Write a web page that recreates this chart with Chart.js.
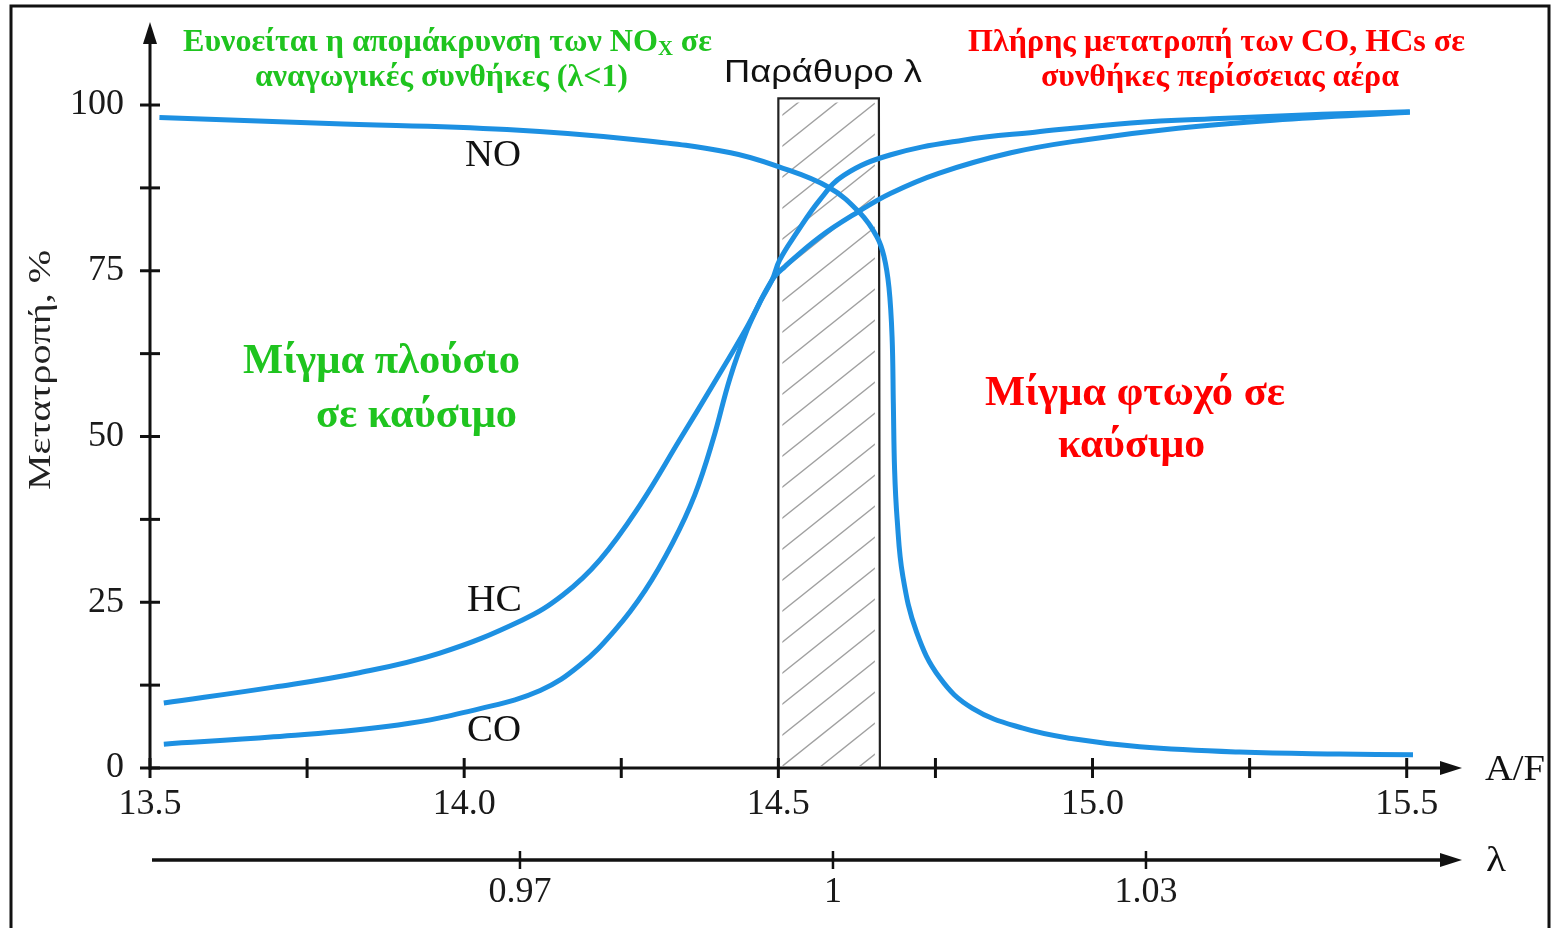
<!DOCTYPE html>
<html><head><meta charset="utf-8">
<script src="https://cdn.jsdelivr.net/npm/chart.js@4.4.1/dist/chart.umd.min.js"></script>
<style>html,body{margin:0;padding:0;background:#fff;}canvas{display:block;}</style>
</head><body>
<canvas id="c" width="1552" height="928" style="width:1552px;height:928px"></canvas>
<script>
// ---- data ----
const noAF  = [13.515,13.785,14.068,14.281,14.424,14.5,14.58,14.63,14.657,14.668,14.676,14.681,14.683,14.685,14.689,14.698,14.72,14.757,14.809,14.889,14.969,15.075,15.234,15.393,15.51];
const noVal = [98.1,97.2,96.3,94.7,92.8,90.7,87.6,83.7,80.1,77.2,72.5,65.0,55.0,45.0,37.6,29.0,20.5,13.6,9.0,6.0,4.4,3.2,2.4,2.1,2.0];
const hcAF  = [13.522,13.697,13.829,13.96,14.092,14.157,14.216,14.28,14.343,14.396,14.45,14.49,14.51,14.566,14.627,14.679,14.755,14.87,14.984,15.136,15.288,15.505];
const hcVal = [9.8,12.2,14.3,17.3,22.3,26.1,31.4,39.7,49.5,57.8,66.5,73.6,75.6,80.1,83.9,86.7,89.7,92.8,94.7,96.5,97.7,98.9];
const coAF  = [13.522,13.697,13.895,14.027,14.121,14.184,14.24,14.288,14.332,14.367,14.396,14.423,14.45,14.471,14.49,14.502,14.529,14.566,14.604,14.679,14.794,14.908,15.061,15.212,15.365,15.505];
const coVal = [3.6,4.7,6.5,9.0,11.7,15.5,20.8,26.8,34.0,41.2,49.5,58.8,66.0,70.3,73.6,76.6,80.7,85.7,89.4,92.5,94.7,95.9,97.3,98.0,98.6,99.0];
const xTicks = [13.5,13.75,14,14.25,14.5,14.75,15,15.25,15.5];
const yTicks = [0,12.5,25,37.5,50,62.5,75,87.5,100];
const lambdaTicks = [0.97,1,1.03];
const windowAF = [14.5,14.66];
const windowTop = 101;
// axis ranges
const X_MIN = 13.5, X_MAX = 15.588, Y_MIN = 0, Y_MAX = 112.07, L_MIN = 0.93454, L_MAX = 1.06029;

const SERIF = '"Liberation Serif","Times New Roman",serif';
const SANS = '"Liberation Sans",Arial,sans-serif';
const GREEN = '#1fc41f', RED = '#ff0000', BLUE = '#1d90e2', INK = '#111';

const pts = (xs, ys) => xs.map((x, i) => ({x: x, y: ys[i]}));

function drawFit(ctx, parts, left, cy, width, color) {
  ctx.save();
  ctx.fillStyle = color;
  ctx.textBaseline = 'middle';
  ctx.textAlign = 'left';
  let total = 0;
  parts.forEach(p => { ctx.font = p[1]; total += ctx.measureText(p[0]).width; });
  const sx = width ? width / total : 1;
  ctx.translate(left, cy);
  ctx.scale(sx, 1);
  let x = 0;
  parts.forEach(p => { ctx.font = p[1]; ctx.fillText(p[0], x, p[2] || 0); x += ctx.measureText(p[0]).width; });
  ctx.restore();
}

function arrow(ctx, x, y, dir) {
  ctx.beginPath();
  if (dir === 'up') { ctx.moveTo(x, y); ctx.lineTo(x - 7, y + 22); ctx.lineTo(x + 7, y + 22); }
  else { ctx.moveTo(x, y); ctx.lineTo(x - 22, y - 7); ctx.lineTo(x - 22, y + 7); }
  ctx.closePath(); ctx.fill();
}

const deco = {
  id: 'deco',
  beforeDraw(chart) {
    const ctx = chart.ctx;
    ctx.save(); ctx.fillStyle = '#fff'; ctx.fillRect(0, 0, chart.width, chart.height); ctx.restore();
  },
  beforeDatasetsDraw(chart) {
    const ctx = chart.ctx, xs = chart.scales.x, ys = chart.scales.y;
    const l = xs.getPixelForValue(windowAF[0]), r = xs.getPixelForValue(windowAF[1]);
    const t = ys.getPixelForValue(windowTop), b = ys.getPixelForValue(0);
    ctx.save();
    ctx.beginPath(); ctx.rect(l + 4, t + 4, r - l - 8, b - t - 6); ctx.clip();
    ctx.strokeStyle = '#a0a0a0'; ctx.lineWidth = 1.4;
    for (let y0 = t + 20; y0 < b + 120; y0 += 31) {
      ctx.beginPath(); ctx.moveTo(l, y0); ctx.lineTo(r, y0 - (r - l) * 0.8); ctx.stroke();
    }
    ctx.restore();
    ctx.save();
    ctx.strokeStyle = '#222'; ctx.lineWidth = 2.2;
    ctx.beginPath(); ctx.moveTo(l, b); ctx.lineTo(l, t); ctx.lineTo(r, t); ctx.lineTo(r + 1, b); ctx.stroke();
    ctx.restore();
  },
  afterDatasetsDraw(chart) {
    const ctx = chart.ctx, xs = chart.scales.x, ys = chart.scales.y, ls = chart.scales.xl;
    const ca = chart.chartArea;
    const x0 = xs.getPixelForValue(X_MIN), y0 = ys.getPixelForValue(0);
    ctx.save();
    ctx.strokeStyle = INK; ctx.fillStyle = INK; ctx.lineWidth = 3; ctx.lineCap = 'butt';
    // y axis
    ctx.beginPath(); ctx.moveTo(x0, y0 + 2); ctx.lineTo(x0, ca.top + 8); ctx.stroke();
    arrow(ctx, x0, ca.top - 3, 'up');
    yTicks.forEach(v => { const p = ys.getPixelForValue(v); ctx.beginPath(); ctx.moveTo(x0 - 10, p); ctx.lineTo(x0 + 10, p); ctx.stroke(); });
    // x axis
    ctx.beginPath(); ctx.moveTo(x0, y0); ctx.lineTo(ca.right - 10, y0); ctx.stroke();
    arrow(ctx, ca.right, y0, 'right');
    xTicks.forEach(v => { const p = xs.getPixelForValue(v); ctx.beginPath(); ctx.moveTo(p, y0 - 10); ctx.lineTo(p, y0 + 10); ctx.stroke(); });
    // lambda axis
    const ly = ls.top + 12;
    ctx.lineWidth = 3.5;
    ctx.beginPath(); ctx.moveTo(x0 + 2, ly); ctx.lineTo(ca.right - 10, ly); ctx.stroke();
    arrow(ctx, ca.right, ly, 'right');
    ctx.lineWidth = 2.5;
    lambdaTicks.forEach(v => { const p = ls.getPixelForValue(v); ctx.beginPath(); ctx.moveTo(p, ly - 9); ctx.lineTo(p, ly + 9); ctx.stroke(); });
    // frame
    ctx.lineWidth = 3;
    ctx.beginPath(); ctx.moveTo(11, 935); ctx.lineTo(11, 6); ctx.lineTo(1549, 6); ctx.lineTo(1549, 935); ctx.stroke();
    ctx.restore();

    // axis names
    drawFit(ctx, [['A/F', '36px ' + SERIF]], 1485, 771, 60, INK);
    drawFit(ctx, [['λ', '36px ' + SERIF]], 1486, 862, 20, INK);
    ctx.save();
    ctx.translate(42, 370); ctx.rotate(-Math.PI / 2);
    drawFit(ctx, [['Μετατροπή, %', '32px ' + SERIF]], -120, 0, 240, '#222');
    ctx.restore();

    // curve labels
    drawFit(ctx, [['NO', '38px ' + SERIF]], 465, 156, 56, INK);
    drawFit(ctx, [['HC', '38px ' + SERIF]], 467, 601, 55, INK);
    drawFit(ctx, [['CO', '38px ' + SERIF]], 467, 731, 54, INK);
    drawFit(ctx, [['Παράθυρο λ', '31px ' + SANS]], 724, 73, 198, INK);

    // annotations
    const gb = 'bold 31px ' + SERIF;
    drawFit(ctx, [['Ευνοείται η απομάκρυνση των NO', gb], ['X', 'bold 20px ' + SERIF, 7], [' σε', gb]], 183, 43, 529, GREEN);
    drawFit(ctx, [['αναγωγικές συνθήκες (λ<1)', gb]], 255, 78, 373, GREEN);
    drawFit(ctx, [['Πλήρης μετατροπή των CO, HCs σε', gb]], 968, 43, 497, RED);
    drawFit(ctx, [['συνθήκες περίσσειας αέρα', gb]], 1041, 78, 358, RED);
    const bb = 'bold 42px ' + SERIF;
    drawFit(ctx, [['Μίγμα πλούσιο', bb]], 243, 362, 277, GREEN);
    drawFit(ctx, [['σε καύσιμο', bb]], 316, 416, 201, GREEN);
    drawFit(ctx, [['Μίγμα φτωχό σε', bb]], 985, 394, 300, RED);
    drawFit(ctx, [['καύσιμο', bb]], 1058, 446, 147, RED);
  }
};

const lineDs = (label, data) => ({
  label: label, data: data, borderColor: BLUE, borderWidth: 5, pointRadius: 0,
  tension: 0.4, fill: false, clip: false, borderCapStyle: 'butt'
});

const tickFont = {family: SERIF, size: 36};
const noPad = s => { s.paddingTop = 0; s.paddingBottom = 0; s.paddingLeft = 0; s.paddingRight = 0; };

new Chart(document.getElementById('c'), {
  type: 'line',
  data: { datasets: [lineDs('NO', pts(noAF, noVal)), lineDs('HC', pts(hcAF, hcVal)), lineDs('CO', pts(coAF, coVal))] },
  options: {
    responsive: false, animation: false, devicePixelRatio: 1,
    layout: { padding: { left: 0, right: 90, top: 25, bottom: 0 } },
    plugins: { legend: { display: false }, tooltip: { enabled: false }, title: { display: false } },
    scales: {
      x: {
        type: 'linear', position: 'bottom', min: X_MIN, max: X_MAX,
        afterBuildTicks: s => { s.ticks = xTicks.map(v => ({value: v})); },
        afterFit: s => { s.height = 80; noPad(s); },
        grid: { display: false, drawTicks: false }, border: { display: false },
        ticks: { font: tickFont, color: '#1a1a1a', padding: 15, maxRotation: 0, autoSkip: false,
          callback: v => (Math.abs(v * 2 - Math.round(v * 2)) < 1e-6 ? v.toFixed(1) : '') }
      },
      xl: {
        type: 'linear', position: 'bottom', min: L_MIN, max: L_MAX,
        afterBuildTicks: s => { s.ticks = lambdaTicks.map(v => ({value: v})); },
        afterFit: s => { s.height = 80; noPad(s); },
        grid: { display: false, drawTicks: false }, border: { display: false },
        ticks: { font: tickFont, color: '#1a1a1a', padding: 23, maxRotation: 0, autoSkip: false,
          callback: v => (v === 1 ? '1' : v.toFixed(2)) }
      },
      y: {
        type: 'linear', position: 'left', min: Y_MIN, max: Y_MAX,
        afterBuildTicks: s => { s.ticks = yTicks.map(v => ({value: v})); },
        afterFit: s => { s.width = 150; noPad(s); },
        grid: { display: false, drawTicks: false }, border: { display: false },
        ticks: { font: tickFont, color: '#1a1a1a', padding: 26, autoSkip: false,
          callback: v => (v % 25 === 0 ? String(v) : '') }
      }
    }
  },
  plugins: [deco]
});
</script>
</body></html>
